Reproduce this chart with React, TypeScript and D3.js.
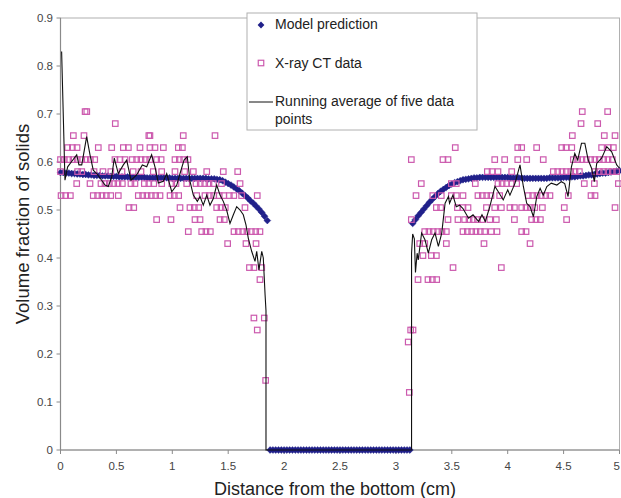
import React from "react";
import * as d3 from "d3";

// ---------- DATA ----------
const xTicks = [0, 0.5, 1, 1.5, 2, 2.5, 3, 3.5, 4, 4.5, 5];
const yTicks = [0, 0.1, 0.2, 0.3, 0.4, 0.5, 0.6, 0.7, 0.8, 0.9];
const xTickLabels = ["0", "0.5", "1", "1.5", "2", "2.5", "3", "3.5", "4", "4.5", "5"];
const yTickLabels = ["0", "0.1", "0.2", "0.3", "0.4", "0.5", "0.6", "0.7", "0.8", "0.9"];

// Model prediction: sampled every 0.025 cm
const modelStep = 0.025;
const modelLeftStart = 0;
const modelLeft = [
  0.578, 0.578, 0.577, 0.577, 0.576, 0.576, 0.575, 0.575, 0.574, 0.574,
  0.573, 0.573, 0.572, 0.572, 0.572, 0.571, 0.571, 0.571, 0.570, 0.570,
  0.570, 0.569, 0.569, 0.569, 0.569, 0.568, 0.568, 0.568, 0.568, 0.568,
  0.568, 0.567, 0.567, 0.567, 0.567, 0.567, 0.567, 0.567, 0.567, 0.567,
  0.566, 0.566, 0.566, 0.566, 0.566, 0.566, 0.566, 0.566, 0.566, 0.566,
  0.566, 0.566, 0.566, 0.565, 0.565, 0.565, 0.564, 0.563, 0.561, 0.558,
  0.555, 0.552, 0.548, 0.544, 0.540, 0.535, 0.530, 0.525, 0.519, 0.514,
  0.508, 0.502, 0.495, 0.487, 0.478,
];
const modelZeroStart = 1.875;
const modelZero = [
  0, 0, 0, 0, 0, 0, 0, 0, 0, 0, 0, 0, 0, 0, 0, 0, 0, 0, 0, 0, 0, 0, 0, 0, 0, 0,
  0, 0, 0, 0, 0, 0, 0, 0, 0, 0, 0, 0, 0, 0, 0, 0, 0, 0, 0, 0, 0, 0, 0, 0, 0,
];
const modelRightStart = 3.15;
const modelRight = [
  0.472, 0.480, 0.488, 0.495, 0.502, 0.509, 0.516, 0.522, 0.528, 0.534,
  0.539, 0.543, 0.547, 0.551, 0.554, 0.557, 0.559, 0.561, 0.563, 0.564,
  0.565, 0.566, 0.567, 0.567, 0.568, 0.568, 0.568, 0.568, 0.568, 0.568,
  0.568, 0.568, 0.568, 0.568, 0.568, 0.567, 0.567, 0.567, 0.567, 0.567,
  0.566, 0.566, 0.566, 0.566, 0.566, 0.566, 0.566, 0.566, 0.566, 0.567,
  0.567, 0.567, 0.567, 0.567, 0.568, 0.568, 0.568, 0.569, 0.569, 0.570,
  0.571, 0.571, 0.572, 0.573, 0.573, 0.574, 0.575, 0.576, 0.577, 0.577,
  0.578, 0.579, 0.580, 0.581, 0.582,
];

// X-ray CT data [distance, volume fraction]
const ctData: [number, number][] = [
  [0.22, 0.705], [0.235, 0.705], [4.667, 0.705], [4.894, 0.705],
  [0.49, 0.68], [4.656, 0.68], [4.805, 0.68],
  [0.115, 0.655], [0.21, 0.655], [0.79, 0.655], [0.8, 0.655], [1.098, 0.655], [1.382, 0.655],
  [4.578, 0.655], [4.864, 0.655], [4.96, 0.655],
  [0.064, 0.63], [0.106, 0.63], [0.148, 0.63], [0.338, 0.63], [0.458, 0.63], [0.562, 0.63],
  [0.607, 0.63], [0.711, 0.63], [0.8, 0.63], [0.845, 0.63], [0.92, 0.63], [1.054, 0.63],
  [1.09, 0.63], [3.531, 0.63], [4.09, 0.63], [4.125, 0.63], [4.259, 0.63], [4.483, 0.63],
  [4.522, 0.63], [4.573, 0.63], [4.84, 0.63], [4.9, 0.63], [4.945, 0.63],
  [0.0, 0.605], [0.034, 0.605], [0.073, 0.605], [0.112, 0.605], [0.15, 0.605], [0.19, 0.605],
  [0.228, 0.605], [0.267, 0.605], [0.306, 0.605], [0.487, 0.605], [0.532, 0.605], [0.577, 0.605],
  [0.642, 0.605], [0.681, 0.605], [0.72, 0.605], [0.759, 0.605], [0.798, 0.605], [0.86, 0.605],
  [0.9, 0.605], [1.024, 0.605], [1.063, 0.605], [1.102, 0.605], [1.14, 0.605], [3.138, 0.605],
  [3.421, 0.605], [3.466, 0.605], [3.884, 0.605], [3.973, 0.605], [4.09, 0.605], [4.17, 0.605],
  [4.318, 0.605], [4.587, 0.605], [4.626, 0.605], [4.664, 0.605], [4.703, 0.605], [4.742, 0.605],
  [4.78, 0.605], [4.819, 0.605], [4.858, 0.605], [4.897, 0.605], [4.936, 0.605],
  [0.0, 0.58], [0.153, 0.58], [0.19, 0.58], [0.3, 0.58], [0.38, 0.58], [0.45, 0.58], [0.55, 0.58],
  [0.65, 0.58], [0.72, 0.58], [0.83, 0.58], [0.905, 0.58], [1.024, 0.58], [1.11, 0.58],
  [1.188, 0.58], [1.308, 0.58], [1.456, 0.58], [1.585, 0.58], [3.818, 0.58], [3.86, 0.58],
  [3.913, 0.58], [4.036, 0.58], [4.408, 0.58], [4.447, 0.58], [4.486, 0.58], [4.524, 0.58],
  [4.564, 0.58], [4.602, 0.58], [4.641, 0.58], [4.78, 0.58], [4.819, 0.58], [4.858, 0.58],
  [4.897, 0.58], [4.936, 0.58], [4.975, 0.58],
  [0.145, 0.555], [0.264, 0.555], [0.362, 0.555], [0.398, 0.555], [0.437, 0.555], [0.476, 0.555],
  [0.514, 0.555], [0.553, 0.555], [0.63, 0.555], [0.666, 0.555], [0.75, 0.555], [0.79, 0.555],
  [0.834, 0.555], [0.905, 0.555], [0.995, 0.555], [1.033, 0.555], [1.129, 0.555], [1.212, 0.555],
  [1.25, 0.555], [1.29, 0.555], [1.328, 0.555], [1.367, 0.555], [1.44, 0.555], [1.606, 0.555],
  [3.227, 0.555], [3.496, 0.555], [3.54, 0.555], [3.71, 0.555], [3.913, 0.555], [3.95, 0.555],
  [3.99, 0.555], [4.035, 0.555], [4.08, 0.555], [4.685, 0.555], [4.775, 0.555], [4.99, 0.555],
  [0.005, 0.53], [0.046, 0.53], [0.088, 0.53], [0.293, 0.53], [0.332, 0.53], [0.371, 0.53],
  [0.41, 0.53], [0.449, 0.53], [0.517, 0.53], [0.696, 0.53], [0.735, 0.53], [0.774, 0.53],
  [0.812, 0.53], [0.851, 0.53], [0.89, 0.53], [0.98, 0.53], [1.018, 0.53], [1.057, 0.53],
  [1.218, 0.53], [1.292, 0.53], [1.331, 0.53], [1.37, 0.53], [1.42, 0.53], [1.46, 0.53],
  [1.51, 0.53], [1.55, 0.53], [1.62, 0.53], [1.76, 0.53], [3.18, 0.53], [3.33, 0.53],
  [3.406, 0.53], [3.496, 0.53], [3.54, 0.53], [3.6, 0.53], [3.734, 0.53], [3.773, 0.53],
  [3.812, 0.53], [3.85, 0.53], [3.928, 0.53], [4.184, 0.53], [4.224, 0.53], [4.262, 0.53],
  [4.3, 0.53], [4.34, 0.53], [4.378, 0.53], [4.542, 0.53], [4.745, 0.53], [4.781, 0.53],
  [0.613, 0.505], [0.655, 0.505], [1.069, 0.505], [1.158, 0.505], [1.197, 0.505], [1.236, 0.505],
  [1.397, 0.505], [1.436, 0.505], [1.474, 0.505], [1.65, 0.505], [3.362, 0.505], [3.4, 0.505],
  [3.55, 0.505], [3.6, 0.505], [3.645, 0.505], [3.81, 0.505], [3.884, 0.505], [3.943, 0.505],
  [4.02, 0.505], [4.06, 0.505], [4.125, 0.505], [4.164, 0.505], [4.202, 0.505], [4.242, 0.505],
  [4.31, 0.505], [4.506, 0.505], [4.96, 0.505],
  [0.86, 0.48], [0.988, 0.48], [1.203, 0.48], [1.248, 0.48], [1.427, 0.48], [1.465, 0.48],
  [3.138, 0.48], [3.466, 0.48], [3.555, 0.48], [3.615, 0.48], [3.654, 0.48], [3.692, 0.48],
  [3.73, 0.48], [3.77, 0.48], [3.84, 0.48], [3.898, 0.48], [4.06, 0.48], [4.214, 0.48],
  [4.253, 0.48], [4.292, 0.48], [4.527, 0.48],
  [1.143, 0.455], [1.263, 0.455], [1.301, 0.455], [1.34, 0.455], [1.552, 0.455], [1.59, 0.455],
  [1.63, 0.455], [1.668, 0.455], [1.707, 0.455], [1.746, 0.455], [1.784, 0.455], [3.258, 0.455],
  [3.296, 0.455], [3.334, 0.455], [3.374, 0.455], [3.412, 0.455], [3.451, 0.455], [3.6, 0.455],
  [3.639, 0.455], [3.678, 0.455], [3.716, 0.455], [3.755, 0.455], [3.794, 0.455], [3.853, 0.455],
  [3.904, 0.455], [4.125, 0.455], [4.164, 0.455],
  [1.495, 0.43], [1.659, 0.43], [1.749, 0.43], [3.213, 0.43], [3.258, 0.43], [3.451, 0.43],
  [3.788, 0.43], [4.2, 0.43],
  [3.242, 0.405], [3.317, 0.405], [3.362, 0.405],
  [1.69, 0.38], [1.73, 0.38], [1.8, 0.38], [3.511, 0.38], [3.943, 0.38],
  [1.784, 0.355], [3.198, 0.355], [3.287, 0.355], [3.326, 0.355], [3.365, 0.355],
  [1.73, 0.275], [1.823, 0.275],
  [1.76, 0.25], [3.132, 0.25], [3.153, 0.25],
  [3.11, 0.225],
  [1.835, 0.145],
  [3.12, 0.12],
];

// Running average of five data points
const avgX = [
  0.01, 0.04, 0.064, 0.1, 0.145, 0.165, 0.19, 0.234, 0.264, 0.293, 0.324, 0.368, 0.398, 0.428,
  0.458, 0.481, 0.517, 0.562, 0.592, 0.631, 0.681, 0.732, 0.771, 0.815, 0.845, 0.875, 0.92,
  0.95, 0.995, 1.04, 1.069, 1.105, 1.134, 1.158, 1.188, 1.224, 1.248, 1.277, 1.308, 1.337,
  1.367, 1.397, 1.427, 1.456, 1.486, 1.516, 1.546, 1.576, 1.606, 1.635, 1.659, 1.68, 1.71,
  1.74, 1.755, 1.775, 1.8, 1.814, 1.83, 1.838, 1.838, 3.14, 3.14, 3.15, 3.165, 3.175, 3.19,
  3.2, 3.23, 3.26, 3.29, 3.32, 3.35, 3.38, 3.41, 3.44, 3.47, 3.48, 3.51, 3.54, 3.57, 3.6, 3.65,
  3.69, 3.74, 3.77, 3.8, 3.84, 3.886, 3.916, 3.96, 4.0, 4.02, 4.066, 4.11, 4.14, 4.17, 4.2,
  4.23, 4.26, 4.29, 4.318, 4.35, 4.39, 4.44, 4.48, 4.51, 4.54, 4.57, 4.6, 4.626, 4.66, 4.69,
  4.72, 4.75, 4.775, 4.796, 4.84, 4.886, 4.93, 4.975, 5.0,
];
const avgY = [
  0.83, 0.562, 0.59, 0.601, 0.615, 0.594, 0.594, 0.653, 0.615, 0.583, 0.576, 0.562, 0.552, 0.549,
  0.569, 0.608, 0.576, 0.594, 0.604, 0.562, 0.573, 0.594, 0.59, 0.615, 0.59, 0.556, 0.56,
  0.576, 0.538, 0.552, 0.576, 0.604, 0.611, 0.56, 0.531, 0.518, 0.528, 0.51, 0.531, 0.51,
  0.524, 0.552, 0.531, 0.518, 0.5, 0.472, 0.49, 0.507, 0.5, 0.49, 0.469, 0.441, 0.414,
  0.393, 0.414, 0.375, 0.414, 0.4, 0.323, 0.29, 0, 0, 0.41, 0.45, 0.44, 0.37, 0.41,
  0.396, 0.452, 0.438, 0.41, 0.438, 0.452, 0.424, 0.452, 0.514, 0.528, 0.514, 0.531, 0.507, 0.51, 0.503, 0.483,
  0.49, 0.476, 0.49, 0.476, 0.507, 0.549, 0.538, 0.521, 0.542, 0.531, 0.556, 0.594, 0.549, 0.514, 0.507,
  0.486, 0.528, 0.545, 0.531, 0.549, 0.556, 0.552, 0.559, 0.555, 0.528, 0.59, 0.618, 0.604, 0.639, 0.639,
  0.604, 0.587, 0.559, 0.597, 0.608, 0.632, 0.621, 0.594, 0.587,
];

const legendLabels = ["Model prediction", "X-ray CT data", "Running average of five data", "points"];

// ---------- LAYOUT ----------
const W = 621;
const H = 498;
const FONT = "'Liberation Sans', Arial, Helvetica, sans-serif";
const MODEL_COLOR = "#20208a";
const CT_COLOR = "#cc5aae";

export default function App() {
  const x = d3.scaleLinear().domain([0, 5]).range([60.5, 619.5]);
  const y = d3.scaleLinear().domain([0, 0.9]).range([450, 18]);

  const modelPts: [number, number][] = [];
  modelLeft.forEach((v, i) => modelPts.push([modelLeftStart + i * modelStep, v]));
  modelZero.forEach((v, i) => modelPts.push([modelZeroStart + i * modelStep, v]));
  modelRight.forEach((v, i) => modelPts.push([modelRightStart + i * modelStep, v]));

  const r = 3.4;
  const diamond = `M0,${-r}L${r},0L0,${r}L${-r},0Z`;
  const sq = 5.5;

  const line = d3
    .line<number>()
    .x((d, i) => x(avgX[i]))
    .y((d) => y(d));

  const [x0, x1] = x.range();
  const [yb, yt] = y.range();

  return (
    <div style={{ position: "absolute", left: 0, top: 0 }}>
      <svg width={W} height={H} style={{ display: "block", background: "#fff" }} fontFamily={FONT}>
        {/* plot border */}
        <rect x={x0} y={yt} width={x1 - x0} height={yb - yt} fill="none" stroke="#b0b0b0" strokeWidth={1} />
        {/* axes */}
        <line x1={x0} x2={x0} y1={yt} y2={yb} stroke="#8a8a8a" strokeWidth={1.2} />
        <line x1={x0} x2={x1} y1={yb} y2={yb} stroke="#8a8a8a" strokeWidth={1.2} />
        {yTicks.map((t, i) => (
          <g key={"yt" + i}>
            <line x1={x0 - 4} x2={x0} y1={y(t)} y2={y(t)} stroke="#8a8a8a" />
            <text x={53} y={y(t) + 4} fontSize={11.5} fill="#444" textAnchor="end">
              {yTickLabels[i]}
            </text>
          </g>
        ))}
        {xTicks.map((t, i) => {
          const last = i === xTicks.length - 1;
          return (
            <g key={"xt" + i}>
              <line x1={x(t)} x2={x(t)} y1={yb} y2={yb + 4} stroke="#8a8a8a" />
              <text
                x={last ? W - 1 : x(t)}
                y={470}
                fontSize={11.5}
                fill="#444"
                textAnchor={last ? "end" : "middle"}
              >
                {xTickLabels[i]}
              </text>
            </g>
          );
        })}
        <text x={335} y={495} fontSize={18} fill="#222" textAnchor="middle">
          Distance from the bottom (cm)
        </text>
        <text
          transform={`translate(29,224) rotate(-90)`}
          fontSize={18.5}
          fill="#222"
          textAnchor="middle"
        >
          Volume fraction of solids
        </text>

        {/* model prediction */}
        <g fill={MODEL_COLOR} stroke={MODEL_COLOR} strokeWidth={0.5}>
          {modelPts.map((p, i) => (
            <path key={"m" + i} d={diamond} transform={`translate(${x(p[0])},${y(p[1])})`} />
          ))}
        </g>
        {/* CT data */}
        <g fill="none" stroke={CT_COLOR} strokeWidth={1.2}>
          {ctData.map((p, i) => (
            <rect key={"c" + i} x={x(p[0]) - sq / 2} y={y(p[1]) - sq / 2} width={sq} height={sq} />
          ))}
        </g>
        {/* running average */}
        <path d={line(avgY) || ""} fill="none" stroke="#111" strokeWidth={1.1} />

        {/* legend */}
        <g>
          <rect x={247} y={13} width={230} height={117} fill="#fff" stroke="#b0b0b0" strokeWidth={1} />
          <path d={diamond} transform="translate(261,25)" fill={MODEL_COLOR} />
          <text x={275} y={29} fontSize={14} fill="#222">{legendLabels[0]}</text>
          <rect x={261 - sq / 2} y={63 - sq / 2} width={sq} height={sq} fill="none" stroke={CT_COLOR} strokeWidth={1.2} />
          <text x={275} y={68} fontSize={14} fill="#222">{legendLabels[1]}</text>
          <line x1={249} x2={273} y1={102} y2={102} stroke="#111" strokeWidth={1} />
          <text x={275} y={106} fontSize={14} fill="#222">{legendLabels[2]}</text>
          <text x={275} y={124} fontSize={14} fill="#222">{legendLabels[3]}</text>
        </g>
      </svg>
    </div>
  );
}
